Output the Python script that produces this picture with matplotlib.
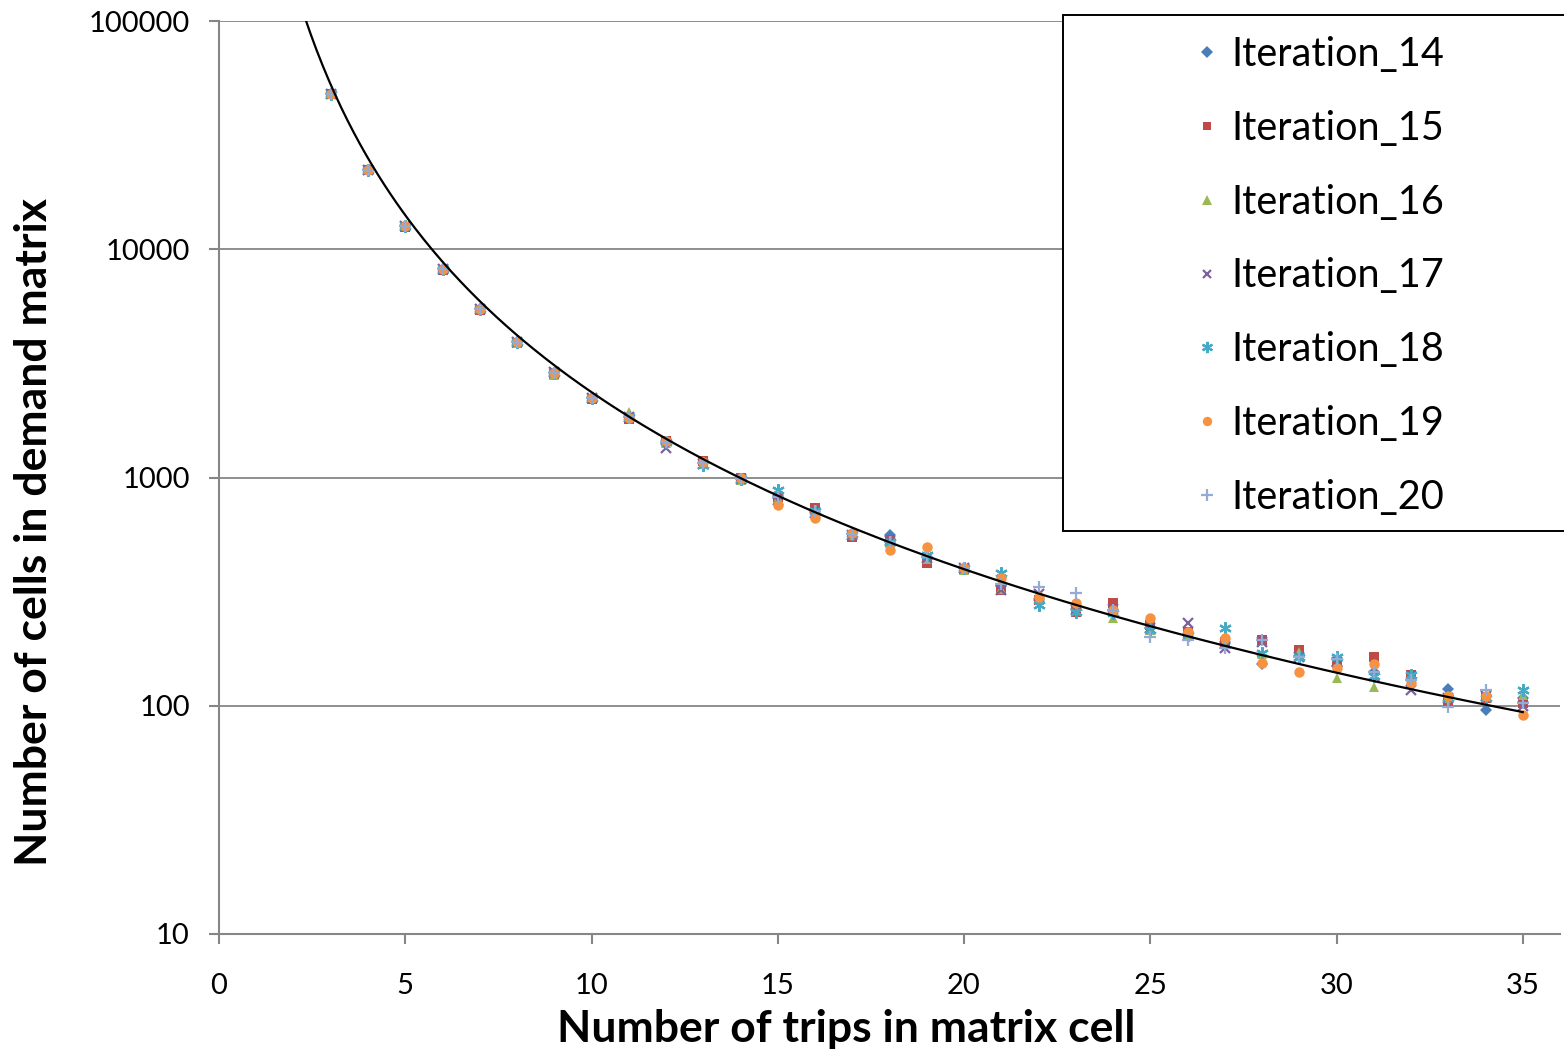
import numpy as np
import matplotlib
matplotlib.use("Agg")
import matplotlib.pyplot as plt
from matplotlib.patches import Rectangle
from matplotlib.ticker import FixedLocator, FixedFormatter, NullLocator

plt.rcParams['font.family'] = ['Lato', 'DejaVu Sans']

# Trip counts per matrix cell (x axis)
trips = list(range(3, 36))

# Number of cells in the demand matrix for each assignment iteration
iter_14 = [47900, 22200, 12600, 8200, 5450, 3920, 2870, 2230, 1840, 1430, 1160, 985, 815, 705, 565,
           560, 450, 400, 335, 290, 265, 262, 220, 205, 190, 152, 165, 150, 140, 130, 119, 96, 108]
iter_15 = [47800, 22300, 12500, 8150, 5400, 3900, 2850, 2200, 1800, 1440, 1180, 990, 820, 735, 550,
           530, 421, 398, 321, 290, 258, 282, 225, 210, 190, 194, 175, 155, 163, 137, 105, 108, 103]
iter_16 = [47900, 22200, 12600, 8200, 5450, 3900, 2800, 2250, 1930, 1420, 1150, 980, 810, 700, 560,
           515, 440, 395, 325, 295, 270, 242, 215, 205, 195, 168, 172, 132, 121, 128, 108, 112, 112]
iter_17 = [47900, 22200, 12600, 8200, 5450, 3920, 2900, 2230, 1840, 1340, 1150, 985, 800, 700, 560,
           525, 445, 400, 321, 310, 262, 265, 218, 230, 179, 190, 163, 155, 135, 117, 108, 110, 100]
iter_18 = [47900, 22200, 12600, 8200, 5450, 3920, 2870, 2230, 1840, 1430, 1140, 985, 881, 715, 565,
           520, 457, 400, 382, 276, 258, 255, 215, 205, 220, 170, 163, 163, 135, 137, 108, 108, 117]
iter_19 = [47900, 22200, 12600, 8200, 5450, 3920, 2870, 2230, 1830, 1450, 1170, 990, 758, 665, 570,
           481, 495, 400, 363, 300, 282, 263, 242, 210, 198, 154, 141, 147, 152, 126, 110, 110, 91]
iter_20 = [47900, 22200, 12600, 8200, 5450, 3920, 2870, 2230, 1840, 1430, 1160, 985, 820, 710, 565,
           520, 450, 402, 340, 331, 312, 262, 200, 194, 179, 194, 163, 160, 141, 130, 99, 117, 103]

series_names = ["Iteration_14", "Iteration_15", "Iteration_16", "Iteration_17",
                "Iteration_18", "Iteration_19", "Iteration_20"]
series_values = [iter_14, iter_15, iter_16, iter_17, iter_18, iter_19, iter_20]

# Power-law trendline  y = a * x^(-b)
trend_a = 8.91e5
trend_b = 2.576

x_ticks = [0, 5, 10, 15, 20, 25, 30, 35]
y_ticks = [10, 100, 1000, 10000, 100000]
y_tick_labels = ["10", "100", "1000", "10000", "100000"]

colors = ["#4A7EBB", "#BE4B48", "#98B954", "#7D60A0", "#46AAC5", "#F69240", "#93ABD5"]
markers = ["D", "s", "^", "x", (6, 2, 0), "o", "+"]
sizes = [6.5, 6.5, 7.5, 7, 9, 7.5, 9]
widths = [0, 0, 0, 1.6, 1.6, 0, 1.6]

W, H = 1564, 1049
fig = plt.figure(figsize=(W / 100, H / 100), dpi=100)
ax = fig.add_axes([219 / W, 1 - 934 / H, (1560 - 219) / W, (934 - 21) / H])

grey = "#868686"
ax.set_xlim(0, 36)
ax.set_yscale("log")
ax.set_ylim(10, 100000)

ax.yaxis.set_major_locator(FixedLocator(y_ticks))
ax.yaxis.set_major_formatter(FixedFormatter(y_tick_labels))
ax.yaxis.set_minor_locator(NullLocator())
ax.set_xticks(x_ticks)
ax.set_xticklabels([str(t) for t in x_ticks])

ax.grid(axis="y", color=grey, linewidth=1.3)
ax.set_axisbelow(True)
for side in ("top", "right"):
    ax.spines[side].set_visible(False)
for side in ("left", "bottom"):
    ax.spines[side].set_color(grey)
    ax.spines[side].set_linewidth(1.5)

ax.tick_params(axis="both", which="major", direction="out", color=grey,
               width=1.5, length=7, labelsize=21, labelcolor="black")
ax.tick_params(axis="x", pad=21)
ax.tick_params(axis="y", pad=14)

handles = []
for name, vals, c, m, s, w in zip(series_names, series_values, colors, markers, sizes, widths):
    h, = ax.plot(trips, vals, linestyle="none", marker=m, markersize=s, color=c,
                 markeredgecolor=c, markeredgewidth=w, label=name, clip_on=False, zorder=3)
    handles.append(h)

xc = np.linspace(2.3, 35, 400)
ax.plot(xc, trend_a * xc ** (-trend_b), color="black", linewidth=1.6, zorder=4)

fig.text(846 / W, 1 - 1029 / H, "Number of trips in matrix cell", fontsize=32,
         fontweight="bold", ha="center", va="center")
fig.text(34 / W, 1 - 532 / H, "Number of cells in demand matrix", fontsize=32,
         fontweight="bold", ha="center", va="center", rotation=90)

# Legend frame
fig.patches.append(Rectangle((1063 / W, 1 - 531 / H), 0.4, (531 - 15) / H,
                             transform=fig.transFigure, fill=True, facecolor="white",
                             edgecolor="black", linewidth=1.4, zorder=5))
leg = fig.legend(handles=handles, loc="upper left",
                 bbox_to_anchor=(1200 / W, 1 - 36 / H), frameon=False,
                 fontsize=28.5, handlelength=0.35, handletextpad=0.45,
                 labelspacing=0.93, borderpad=0, borderaxespad=0, markerscale=0.9)
leg.set_zorder(6)

fig.savefig("out.png", dpi=100)
